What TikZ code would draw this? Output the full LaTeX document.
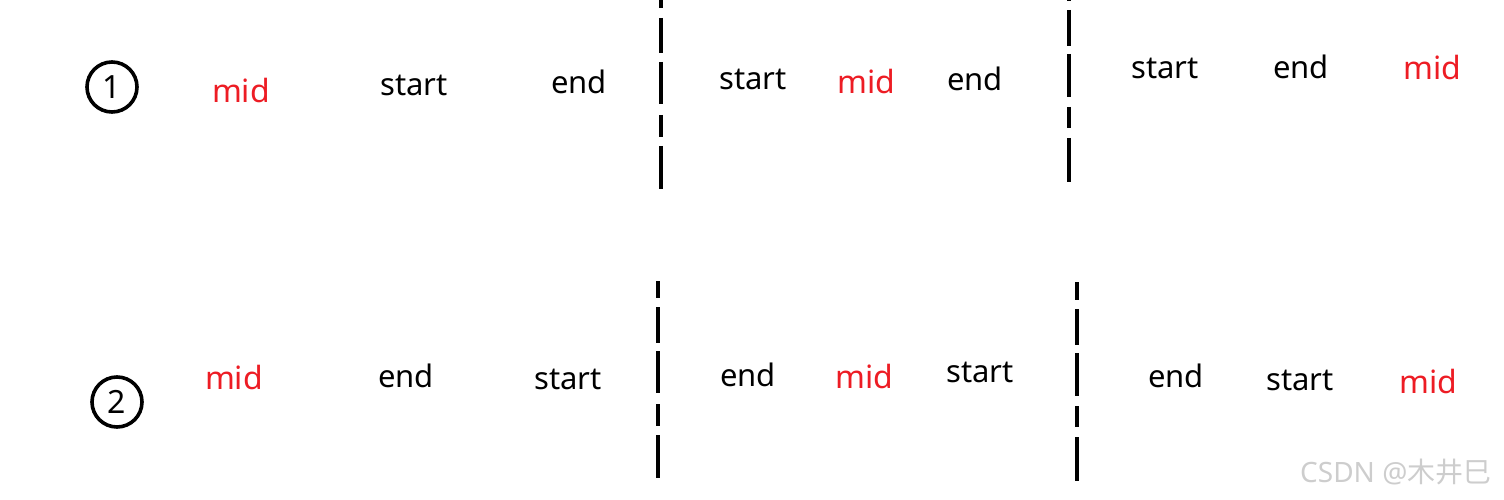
\documentclass[tikz,border=0pt]{standalone}
\usepackage{fontspec}
\setmainfont{Noto Sans}
\newfontfamily\cjkfont{Noto Sans CJK SC}
\definecolor{midred}{RGB}{237,28,36}
\definecolor{wmgray}{RGB}{205,205,205}
\begin{document}
\begin{tikzpicture}[x=1pt,y=-1pt,
  word/.style={anchor=base,inner sep=0pt,font=\fontsize{31}{31}\selectfont},
  midword/.style={word,text=midred,font=\fontsize{32}{32}\selectfont},
  numcircle/.style={draw,line width=3.6pt,circle,minimum size=50pt,inner sep=0pt,font=\fontsize{32}{32}\selectfont},
  dashseg/.style={line width=4.8pt}]
\useasboundingbox (0,0) rectangle (1504,500);
% row 1
\node[numcircle] (c1) at (112,87) {1};
\node[midword] (m11) at (241,103) {mid};
\node[word] (s11) at (414,96) {start};
\node[word] (e11) at (579,94) {end};
\node[word] (s12) at (753,90) {start};
\node[midword] (m12) at (866,94) {mid};
\node[word] (e12) at (975,91) {end};
\node[word] (s13) at (1165,79) {start};
\node[word] (e13) at (1301,79) {end};
\node[midword] (m13) at (1432,80) {mid};
% row 2
\node[numcircle] (c2) at (117,402) {2};
\node[midword] (m21) at (234,389) {mid};
\node[word] (e21) at (406,387) {end};
\node[word] (s21) at (568,389) {start};
\node[word] (e22) at (748,386) {end};
\node[midword] (m22) at (864,388) {mid};
\node[word] (s22) at (980,382) {start};
\node[word] (e23) at (1176,387) {end};
\node[word] (s23) at (1300,390) {start};
\node[midword] (m23) at (1428,393) {mid};
% divider lines
\foreach \a/\b in {0/8,18/53,62/104,115/137,146/189}
  \draw[dashseg] (661,\a) -- (661,\b);
\foreach \a/\b in {0/1,10/46,54/97,107/128,138/182}
  \draw[dashseg] (1069,\a) -- (1069,\b);
\foreach \a/\b in {281/298,307/343,351/393,404/426,435/478}
  \draw[dashseg] (658,\a) -- (658,\b);
\foreach \a/\b in {282/300,309/345,353/396,406/427,437/481}
  \draw[dashseg] (1077,\a) -- (1077,\b);
% watermark
\node[anchor=base west,inner sep=0pt,text=wmgray,font=\fontsize{28}{28}\selectfont] (wm) at (1300,482) {CSDN @{\cjkfont 木井巳}};
\end{tikzpicture}
\end{document}
